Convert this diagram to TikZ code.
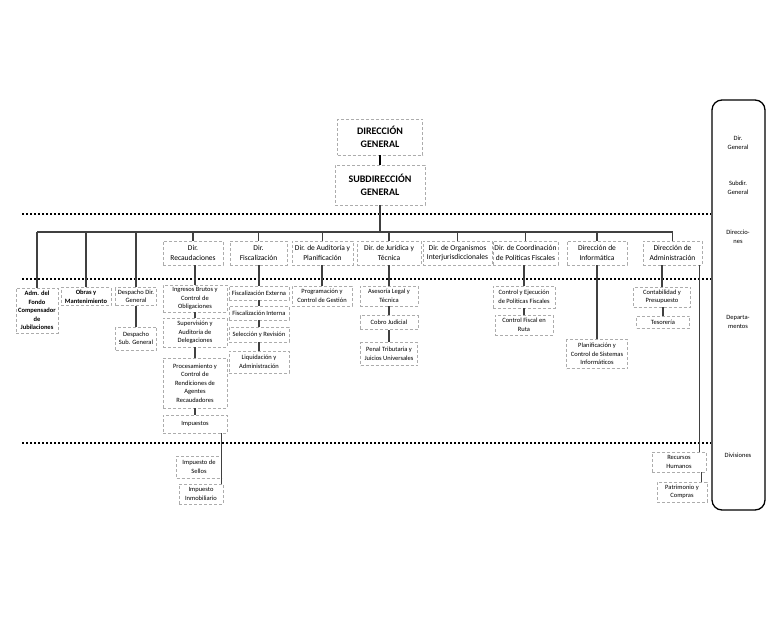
\documentclass[tikz,border=0pt]{standalone}
\usepackage{fontspec}
\setmainfont{Carlito}
\usetikzlibrary{positioning}
\tikzset{>=latex}
\tikzset{
  box/.style={draw=gray!65, densely dashed, line width=0.6pt, align=center, inner sep=1pt, text=black},
  head/.style={box, font=\fontsize{10}{13}\selectfont\bfseries},
  dir/.style={box, minimum height=24pt, font=\fontsize{7.5}{9.5}\selectfont},
  dep/.style={box, font=\fontsize{6.5}{8.5}\selectfont},
  link/.style={line width=1.1pt, black!75},
  sep/.style={line width=2.4pt, dash pattern=on 2.4pt off 1.6pt},
  tag/.style={align=center, text=black, font=\fontsize{6.5}{8.5}\selectfont}
}

\begin{document}
\begin{tikzpicture}[x=1pt,y=-1pt]
\useasboundingbox (0,0) rectangle (773,634);
%-----levels-----
\foreach \y in {214,279,443}
  {
    \draw[sep] (22,\y) -- (711,\y);
  }
\draw[line width=1.3pt, rounded corners=10pt] (712,100) rectangle (765,510);
\node[tag] (tDG) at (738,143) {Dir.\\General};
\node[tag] (tSD) at (738,188) {Subdir.\\General};
\node[tag] (tDI) at (738,237) {Direccio-\\nes};
\node[tag] (tDE) at (738,322) {Departa-\\mentos};
\node[tag] (tDV) at (738,455) {Divisiones};
%-----top-----
\node[head, minimum width=85pt, minimum height=36pt] (dg) at (380,137) {DIRECCIÓN\\GENERAL};
\node[head, minimum width=90pt, minimum height=40pt] (sdg) at (380,185) {SUBDIRECCIÓN\\GENERAL};
\draw[line width=2.2pt] (dg) -- (sdg);
\coordinate (bus) at (37,232);
\draw[link] (sdg) -- (sdg.south |- bus);
%-----direcciones-----
\foreach \n/\x/\w/\t in {
    dRec/193/60/{Dir.\\Recaudaciones},
    dFis/258.5/57/{Dir.\\Fiscalización},
    dAud/322.5/61/{Dir. de Auditoría y\\Planificación},
    dJur/389/64/{Dir. de Jurídica y\\Técnica},
    dOrg/457.5/69/{Dir. de Organismos\\Interjurisdiccionales},
    dCoo/525.5/65/{Dir. de Coordinación\\de Políticas Fiscales},
    dInf/597/60/{Dirección de\\Informática},
    dAdm/672.5/59/{Dirección de\\Administración}}
  {
    \node[dir, minimum width=\w pt] (\n) at (\x,253) {\t};
    \draw[link] (\n.north) -- (\n.north |- bus);
  }
\draw[link, line width=1.4pt] (bus) -- (dAdm.north |- bus);
%-----left side-----
\node[dep, font=\fontsize{6.5}{8.5}\selectfont\bfseries, minimum width=42pt, minimum height=45pt] (lAdm) at (37,310.5) {Adm. del\\Fondo\\Compensador\\de\\Jubilaciones};
\node[dep, font=\fontsize{6.5}{8.5}\selectfont\bfseries, minimum width=50pt, minimum height=18pt] (lObr) at (86,296.5) {Obras y\\Mantenimiento};
\node[dep, minimum width=41pt, minimum height=18pt] (lDes) at (136,296.5) {Despacho Dir.\\General};
\node[dep, minimum width=41pt, minimum height=23pt] (lDsu) at (136,338.5) {Despacho\\Sub. General};
\foreach \n in {lAdm,lObr,lDes}
  {
    \draw[link] (\n.north) -- (\n.north |- bus);
  }
\draw[link] (lDes) -- (lDsu);
%-----departamentos-----
\node[dep, minimum width=64pt, minimum height=27pt] (rIng) at (195,298.5) {Ingresos Brutos y\\Control de\\Obligaciones};
\node[dep, minimum width=64pt, minimum height=29pt] (rSup) at (195,332.5) {Supervisión y\\Auditoría de\\Delegaciones};
\node[dep, minimum width=64pt, minimum height=50pt] (rPro) at (195,383) {Procesamiento y\\Control de\\Rendiciones de\\Agentes\\Recaudadores};
\node[dep, minimum width=64pt, minimum height=18pt] (rImp) at (195,424) {Impuestos};
\node[dep, minimum width=60pt, minimum height=14pt] (fExt) at (259,293) {Fiscalización Externa};
\node[dep, minimum width=60pt, minimum height=14pt] (fInt) at (259,313) {Fiscalización Interna};
\node[dep, minimum width=60pt, minimum height=15pt] (fSel) at (259,334.5) {Selección y Revisión};
\node[dep, minimum width=60pt, minimum height=22pt] (fLiq) at (259,362) {Liquidación y\\Administración};
\node[dep, minimum width=60pt, minimum height=20pt] (aPro) at (322,296) {Programación y\\Control de Gestión};
\node[dep, minimum width=58pt, minimum height=20pt] (jAse) at (389,296) {Asesoría Legal y\\Técnica};
\node[dep, minimum width=58pt, minimum height=14pt] (jCob) at (389,322.5) {Cobro Judicial};
\node[dep, minimum width=57pt, minimum height=23pt] (jPen) at (389,354) {Penal Tributaria y\\Juicios Universales};
\node[dep, minimum width=62pt, minimum height=22pt] (cCon) at (524,297) {Control y Ejecución\\de Políticas Fiscales};
\node[dep, minimum width=58pt, minimum height=20pt] (cRut) at (524,325) {Control Fiscal en\\Ruta};
\node[dep, minimum width=61pt, minimum height=29pt] (iPla) at (597,354) {Planificación y\\Control de Sistemas\\Informáticos};
\node[dep, minimum width=57pt, minimum height=20pt] (xCon) at (662,297) {Contabilidad y\\Presupuesto};
\node[dep, minimum width=53pt, minimum height=12pt] (xTes) at (663,322) {Tesorería};
%-----divisiones-----
\node[dep, minimum width=45pt, minimum height=22pt] (vSel) at (199,467) {Impuesto de\\Sellos};
\node[dep, minimum width=44pt, minimum height=20pt] (vInm) at (201,494) {Impuesto\\Inmobiliario};
\node[dep, minimum width=54pt, minimum height=20pt] (vRec) at (679,462) {Recursos\\Humanos};
\node[dep, minimum width=50pt, minimum height=20pt] (vPat) at (682,492) {Patrimonio y\\Compras};
%-----connectors-----
\foreach \a/\b in {dRec/rIng,rIng/rSup,rSup/rPro,rPro/rImp,dFis/fExt,fExt/fInt,fInt/fSel,fSel/fLiq,dAud/aPro,dJur/jAse,jAse/jCob,jCob/jPen,dCoo/cCon,cCon/cRut,dInf/iPla,xCon/xTes}
  {
    \draw[link] (\b.north) -- (\b.north |- \a.south);
  }
\draw[link] (xCon.north) -- (xCon.north |- dAdm.south);
\draw[link] (rImp.south -| vSel.east) -- (vInm.north -| vSel.east);
\draw[link] ([xshift=-3pt]dAdm.south east) -- ([xshift=-3pt]dAdm.south east |- vRec.north);
\draw[link] ([xshift=-5pt]vRec.south east) -- ([xshift=-5pt]vRec.south east |- vPat.north);
\end{tikzpicture}
\end{document}
